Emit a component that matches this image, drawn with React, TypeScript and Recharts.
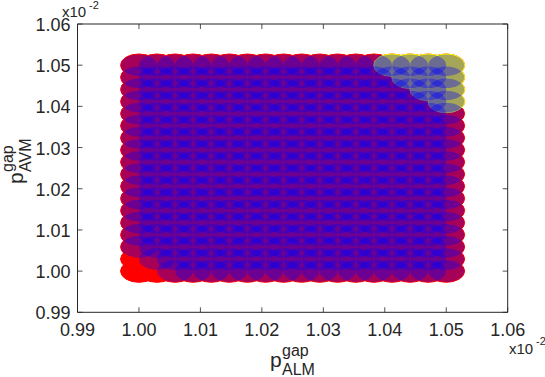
import React from 'react';
import { ScatterChart, Scatter, XAxis, YAxis, ReferenceLine } from 'recharts';

// grid values (in units of 1e-2): 18 evenly spaced columns / rows
const gridX = [1.0, 1.00294, 1.00588, 1.00882, 1.01176, 1.01471, 1.01765, 1.02059, 1.02353, 1.02647, 1.02941, 1.03235, 1.03529, 1.03824, 1.04118, 1.04412, 1.04706, 1.05];
const gridY = [1.0, 1.00294, 1.00588, 1.00882, 1.01176, 1.01471, 1.01765, 1.02059, 1.02353, 1.02647, 1.02941, 1.03235, 1.03529, 1.03824, 1.04118, 1.04412, 1.04706, 1.05];

const xTicks = [0.99, 1.0, 1.01, 1.02, 1.03, 1.04, 1.05, 1.06];
const yTicks = [0.99, 1.0, 1.01, 1.02, 1.03, 1.04, 1.05, 1.06];

// grid points without a blue marker (bottom-left corner)
const blueMissingX = [1.0, 1.00294, 1.0];
const blueMissingY = [1.0, 1.0, 1.00294];

// grid points with a yellow marker (top-right corner)
const yellowX = [1.04118, 1.04412, 1.04706, 1.05, 1.04412, 1.04706, 1.05, 1.04706, 1.05, 1.05];
const yellowY = [1.05, 1.05, 1.05, 1.05, 1.04706, 1.04706, 1.04706, 1.04412, 1.04412, 1.04118];

const W = 545;
const H = 377;
const PLOT_LEFT = 77.5;
const PLOT_RIGHT = 507.7;
const PLOT_TOP = 24;
const PLOT_BOTTOM = 312.3;
const AX = '#262626';
const FONT = '"Liberation Sans", Arial, Helvetica, sans-serif';

const allPoints = gridX.flatMap((x) => gridY.map((y) => ({ x, y })));
const bluePoints = allPoints.filter(
  (p) => !blueMissingX.some((bx, i) => bx === p.x && blueMissingY[i] === p.y)
);
const yellowPoints = yellowX.map((x, i) => ({ x, y: yellowY[i] }));

const makeShape = (fill: string, rx: number, ry: number, opacity: number, stroke?: string) => (props: any) => (
  <ellipse
    cx={props.cx}
    cy={props.cy}
    rx={rx}
    ry={ry}
    fill={fill}
    fillOpacity={opacity}
    stroke={stroke || 'none'}
    strokeWidth={1}
  />
);

const XTick = (props: any) => {
  const { x, payload } = props;
  return (
    <g>
      <line x1={x} x2={x} y1={PLOT_BOTTOM} y2={PLOT_BOTTOM - 5} stroke={AX} strokeWidth={0.8} />
      <line x1={x} x2={x} y1={PLOT_TOP} y2={PLOT_TOP + 5} stroke={AX} strokeWidth={0.8} />
      <text x={x} y={PLOT_BOTTOM + 24} textAnchor="middle" fontFamily={FONT} fontSize={18} fill={AX}>
        {Number(payload.value).toFixed(2)}
      </text>
    </g>
  );
};

const YTick = (props: any) => {
  const { y, payload } = props;
  return (
    <g>
      <line x1={PLOT_LEFT} x2={PLOT_LEFT + 5} y1={y} y2={y} stroke={AX} strokeWidth={0.8} />
      <line x1={PLOT_RIGHT} x2={PLOT_RIGHT - 5} y1={y} y2={y} stroke={AX} strokeWidth={0.8} />
      <text x={PLOT_LEFT - 7} y={y + 7} textAnchor="end" fontFamily={FONT} fontSize={18} fill={AX}>
        {Number(payload.value).toFixed(2)}
      </text>
    </g>
  );
};

const XTitle = () => (
  <text fontFamily={FONT} fill={AX}>
    <tspan x={270} y={367} fontSize={21}>p</tspan>
    <tspan x={282} y={356} fontSize={16}>gap</tspan>
    <tspan x={282} y={374.5} fontSize={16}>ALM</tspan>
  </text>
);

const YTitle = () => (
  <g transform="rotate(-90)">
    <text fontFamily={FONT} fill={AX}>
      <tspan x={-184} y={22.5} fontSize={21}>p</tspan>
      <tspan x={-172} y={13} fontSize={16}>gap</tspan>
      <tspan x={-172} y={30.5} fontSize={16}>AVM</tspan>
    </text>
  </g>
);

export default function App() {
  return (
    <div style={{ position: 'absolute', left: 0, top: 0, width: W, height: H, background: '#fff' }}>
      <ScatterChart
        width={W}
        height={H}
        margin={{ top: PLOT_TOP, right: W - PLOT_RIGHT, bottom: 0, left: 0 }}
      >
        <XAxis
          type="number"
          dataKey="x"
          domain={[0.99, 1.06]}
          ticks={xTicks}
          interval={0}
          height={H - PLOT_BOTTOM}
          tickSize={0}
          tickMargin={0}
          tickLine={false}
          axisLine={{ stroke: AX, strokeWidth: 1 }}
          tick={<XTick />}
          allowDataOverflow
          label={<XTitle />}
        />
        <YAxis
          type="number"
          dataKey="y"
          domain={[0.99, 1.06]}
          ticks={yTicks}
          interval={0}
          width={PLOT_LEFT}
          tickSize={0}
          tickMargin={0}
          tickLine={false}
          axisLine={{ stroke: AX, strokeWidth: 1 }}
          tick={<YTick />}
          allowDataOverflow
          label={<YTitle />}
        />
        <ReferenceLine y={1.06} stroke={AX} strokeWidth={1} />
        <ReferenceLine x={1.06} stroke={AX} strokeWidth={1} />
        <Scatter data={allPoints} isAnimationActive={false} shape={makeShape('#ff0000', 18.4, 11.2, 1, '#ff0000')} />
        <Scatter data={yellowPoints} isAnimationActive={false} shape={makeShape('#ffff00', 18.4, 11.2, 1, '#ffff00')} />
        <Scatter data={bluePoints} isAnimationActive={false} shape={makeShape('#0000ff', 18, 10.8, 0.35)} />
      </ScatterChart>
      <svg width={W} height={H} style={{ position: 'absolute', left: 0, top: 0, pointerEvents: 'none' }}>
        <text fontFamily={FONT} fill={AX}>
          <tspan x={62} y={16.5} fontSize={15}>x10</tspan>
          <tspan x={89} y={9} fontSize={11}>-2</tspan>
        </text>
        <text fontFamily={FONT} fill={AX}>
          <tspan x={509} y={353.5} fontSize={15}>x10</tspan>
          <tspan x={536} y={344.5} fontSize={11}>-2</tspan>
        </text>
      </svg>
    </div>
  );
}
